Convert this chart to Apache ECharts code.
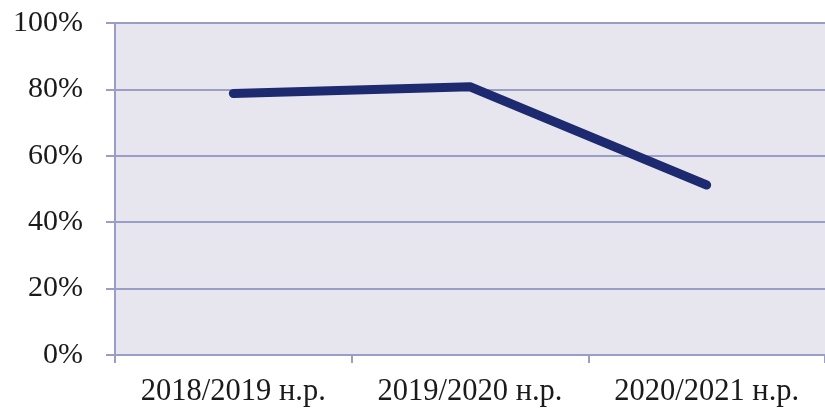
<!DOCTYPE html>
<html>
<head>
<meta charset="utf-8">
<script src="https://cdn.jsdelivr.net/npm/echarts@6/dist/echarts.min.js"></script>
<style>
  html, body { margin: 0; padding: 0; background: #ffffff; }
  #chart { width: 825px; height: 410px; }
</style>
</head>
<body>
<div id="chart"></div>
<script>
const years = ['2018/2019 н.р.', '2019/2020 н.р.', '2020/2021 н.р.']
const shares = [78.8, 80.8, 51.2]

const gridColor = '#9a9dc6'
const serif = '"Liberation Serif", "Times New Roman", Times, serif'
const chart = echarts.init(document.getElementById('chart'))
chart.setOption({
  animation: false,
  textStyle: { fontFamily: serif, fontSize: 30 },
  grid: { left: 115, right: 0, top: 23, bottom: 55, backgroundColor: '#e7e6ee', show: true, borderWidth: 0 },
  xAxis: {
    type: 'category',
    data: years,
    boundaryGap: true,
    axisLine: { lineStyle: { color: gridColor, width: 2 } },
    axisTick: { show: true, interval: 0, length: 8, lineStyle: { color: gridColor, width: 2 } },
    axisLabel: { color: '#1a1a1a', fontSize: 30.5, margin: 21, interval: 0, hideOverlap: false, fontFamily: serif },
  },
  yAxis: {
    type: 'value',
    min: 0,
    max: 100,
    interval: 20,
    axisLine: { show: true, lineStyle: { color: gridColor, width: 2 } },
    axisTick: { show: true, length: 9, lineStyle: { color: gridColor, width: 2 } },
    axisLabel: { color: '#1a1a1a', fontSize: 30, margin: 32, formatter: '{value}%', fontFamily: serif },
    splitLine: { lineStyle: { color: gridColor, width: 2 } },
  },
  series: [{
    type: 'line',
    data: shares,
    showSymbol: false,
    lineStyle: { color: '#1e2a70', width: 9, cap: 'round', join: 'round' },
  }],
})
</script>
</body>
</html>
